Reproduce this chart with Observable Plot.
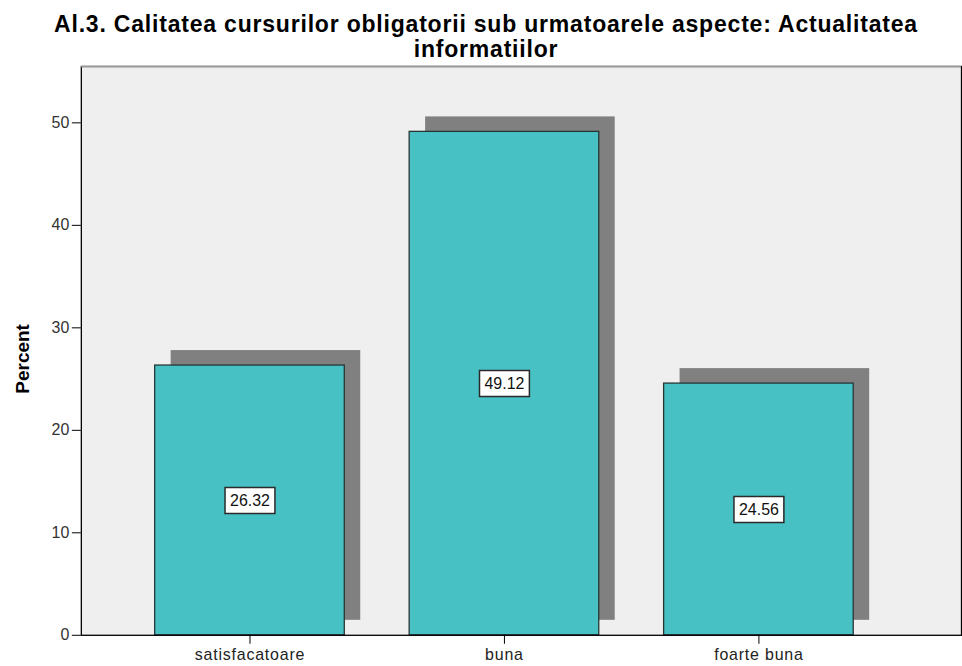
<!DOCTYPE html>
<html>
<head>
<meta charset="utf-8">
<script src="https://cdn.jsdelivr.net/npm/d3@7"></script>
<script src="https://cdn.jsdelivr.net/npm/@observablehq/plot@0.6"></script>
<style>
  html, body { margin: 0; padding: 0; background: #fff; overflow: hidden; }
  #title {
    height: 58px; box-sizing: border-box; padding-top: 12px; padding-left: 10px;
    font: bold 23px "Liberation Sans", Arial, sans-serif; line-height: 25px;
    text-align: center; color: #000; letter-spacing: 0.8px; white-space: nowrap;
  }
  #chart svg { display: block; }
  #chart svg g[aria-label="x-axis tick label"] text { letter-spacing: 0.8px; }
</style>
</head>
<body>
<div id="title">Al.3. Calitatea cursurilor obligatorii sub urmatoarele aspecte: Actualitatea<br>informatiilor</div>
<div id="chart"></div>
<script>
const categories = ["satisfacatoare", "buna", "foarte buna"];
const percents = [26.32, 49.12, 24.56];
const yTicks = [0, 10, 20, 30, 40, 50];
const yLabel = "Percent";

const data = categories.map((c, i) => ({cat: c, pct: percents[i]}));

const boxSymbol = { draw(ctx) { ctx.rect(-25, -13, 50, 26); } };

const chart = Plot.plot({
  width: 964,
  height: 608,
  marginLeft: 81,
  marginRight: 1,
  marginTop: 8,
  marginBottom: 30,
  style: { fontFamily: "'Liberation Sans', Arial, sans-serif", background: "white" },
  x: { type: "band", domain: categories, range: [155, 855], paddingInner: 0.255, paddingOuter: 0 },
  y: { domain: [0, 55.5] },
  marks: [
    Plot.frame({ fill: "#efefef", stroke: "none" }),
    Plot.barY(data, { x: "cat", y: "pct", fill: "#808080", dx: 16, dy: -15 }),
    Plot.barY(data, { x: "cat", y: "pct", fill: "#48c1c4", stroke: "#263636", strokeWidth: 1.3 }),
    Plot.dot(data, { x: "cat", y: d => d.pct / 2, symbol: boxSymbol, fill: "white", stroke: "#2a2a2a", strokeWidth: 1.5 }),
    Plot.text(data, { x: "cat", y: d => d.pct / 2, text: d => d.pct.toFixed(2), fontSize: 16, fill: "#111" }),
    Plot.frame({ stroke: "black", strokeWidth: 1.3 }),
    Plot.ruleY([55.5], { stroke: "#999", strokeWidth: 1.5 }),
    Plot.axisY({ ticks: yTicks, tickSize: 9, tickPadding: 3, fontSize: 16, label: null, stroke: "black", fill: "#333" }),
    Plot.axisX({ tickSize: 9, tickPadding: 4, fontSize: 16, label: null, stroke: "black", fill: "#222" }),
    Plot.text([yLabel], { frameAnchor: "left", textAnchor: "middle", dx: -59, dy: 8, rotate: -90, fontSize: 19, fontWeight: "bold", fill: "#000" })
  ]
});
document.getElementById("chart").appendChild(chart);
</script>
</body>
</html>
